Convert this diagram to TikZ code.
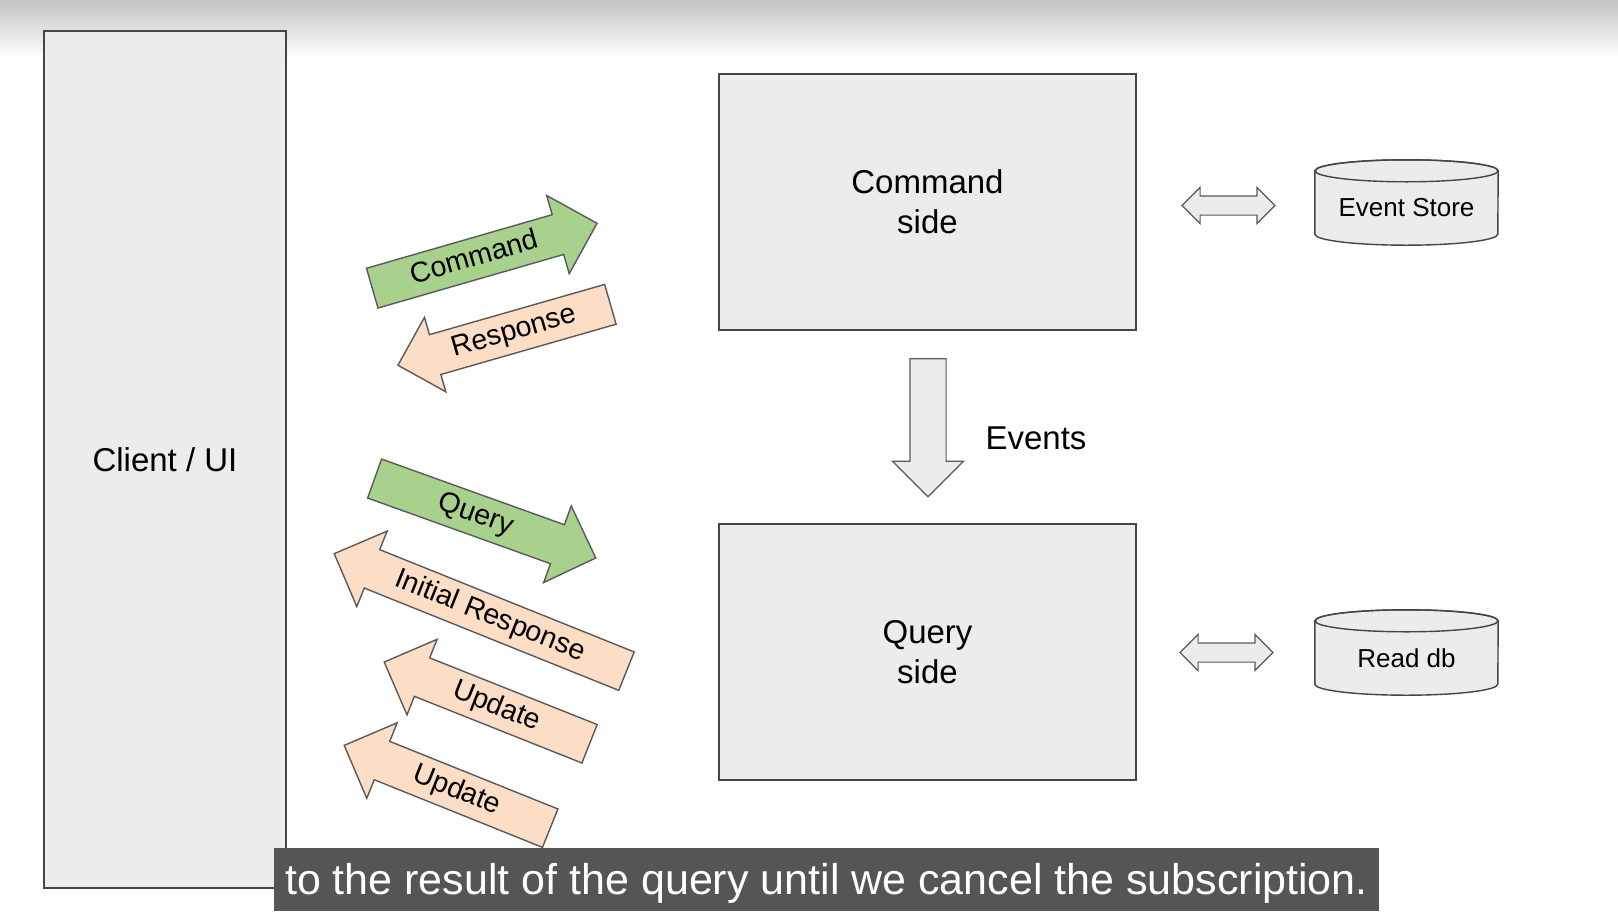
\documentclass[tikz,border=0pt]{standalone}
\usepackage{fontspec}
\setmainfont{Liberation Sans}
\usetikzlibrary{shapes.arrows,positioning,backgrounds}
\definecolor{boxfill}{HTML}{ECEBED}
\definecolor{boxline}{HTML}{454545}
\definecolor{sendgreen}{HTML}{A9D18E}
\definecolor{replypeach}{HTML}{FCDDC5}
\definecolor{arrline}{HTML}{5A5A5A}
\definecolor{capgrey}{HTML}{545557}
\definecolor{topgrey}{HTML}{C4C4C6}
\tikzset{box/.style={draw=boxline,fill=boxfill,line width=1.4pt,align=center,font=\fontsize{33}{40}\selectfont,inner sep=0pt},
flow/.style={single arrow,anchor=tip,draw=arrline,line width=1.4pt,font=\fontsize{28.5}{34}\selectfont,text height=21pt,text depth=6pt,inner ysep=6.5pt,inner xsep=0pt,single arrow head extend=20pt},
send/.style={flow,fill=sendgreen},reply/.style={flow,fill=replypeach,shape border rotate=180},
both/.style={double arrow,draw=arrline,fill=boxfill,line width=1.2pt,inner xsep=0pt,inner ysep=9pt,minimum height=93pt,double arrow head extend=8.5pt},
store/.style={inner sep=0pt,minimum width=183pt,minimum height=74pt,font=\fontsize{26}{31}\selectfont}}
\begin{document}
\begin{tikzpicture}[x=1pt,y=1pt]
\useasboundingbox (0,0) rectangle (1618,-916);
\begin{scope}[on background layer]
\fill[white] (0,0) rectangle (1618,-916);
\shade[top color=topgrey,bottom color=white] (0,0) rectangle (1618,-58);
\end{scope}
% boxes
\node[box,minimum width=242pt,minimum height=857pt] (client) at (165,-459.5) {Client / UI};
\node[box,minimum width=417pt,minimum height=256pt,text depth=-3pt] (cmdside) at (927.5,-202) {Command\\side};
\node[box,minimum width=417pt,minimum height=256pt,text depth=-3pt] (qryside) at (927.5,-652) {Query\\side};
% events between the sides
\node[single arrow,draw=arrline,fill=boxfill,line width=1.2pt,shape border rotate=270,inner xsep=17.5pt,inner ysep=0pt,minimum height=138pt,single arrow head extend=17.5pt] (events) at (928,-418.7) {};
\node[font=\fontsize{33}{40}\selectfont] (evlabel) at (1036,-438) {Events};
% stores
\node[both] (evlink) at (1228.5,-205.5) {};
\node[both] (rdlink) at (1226.5,-652.5) {};
\node[store] (evstore) at (1406.5,-208) {Event Store};
\node[store] (readdb) at (1406.5,-658) {Read db};
\begin{scope}[on background layer]
\foreach \n in {evstore,readdb}{
\filldraw[draw=boxline,fill=boxfill,line width=1.4pt] (\n.north west) -- ([yshift=11pt]\n.south west) arc[start angle=180,end angle=360,x radius=91.5pt,y radius=11pt] -- (\n.north east) arc[start angle=0,end angle=180,x radius=91.5pt,y radius=11pt] -- cycle;
\draw[boxline,line width=1.4pt] (\n.north) ellipse[x radius=91.5pt,y radius=11pt];}
\end{scope}
% messages, placed by their tips
\node[send,minimum height=234pt,rotate=16.1] (cmd) at (598,-223) {Command};
\node[reply,minimum height=221pt,rotate=16,single arrow head extend=18pt] (resp) at (397,-365.5) {Response};
\node[send,minimum height=235pt,rotate=-19.75] (qry) at (596.7,-558.3) {Query};
\node[reply,minimum height=315pt,rotate=-21.9] (initresp) at (333.3,-553.3) {Initial Response};
\node[reply,minimum height=221pt,rotate=-21.7] (upd1) at (383.3,-661.7) {Update};
\node[reply,minimum height=222pt,rotate=-21.9] (upd2) at (343.3,-745) {Update};
% subtitle
\node[fill=capgrey,text=white,font=\fontsize{43}{50}\selectfont,minimum width=1105pt,minimum height=63pt,inner sep=0pt,text height=31.4pt,text depth=1pt] (caption) at (826.5,-879.5) {to the result of the query until we cancel the subscription.};
\end{tikzpicture}
\end{document}
